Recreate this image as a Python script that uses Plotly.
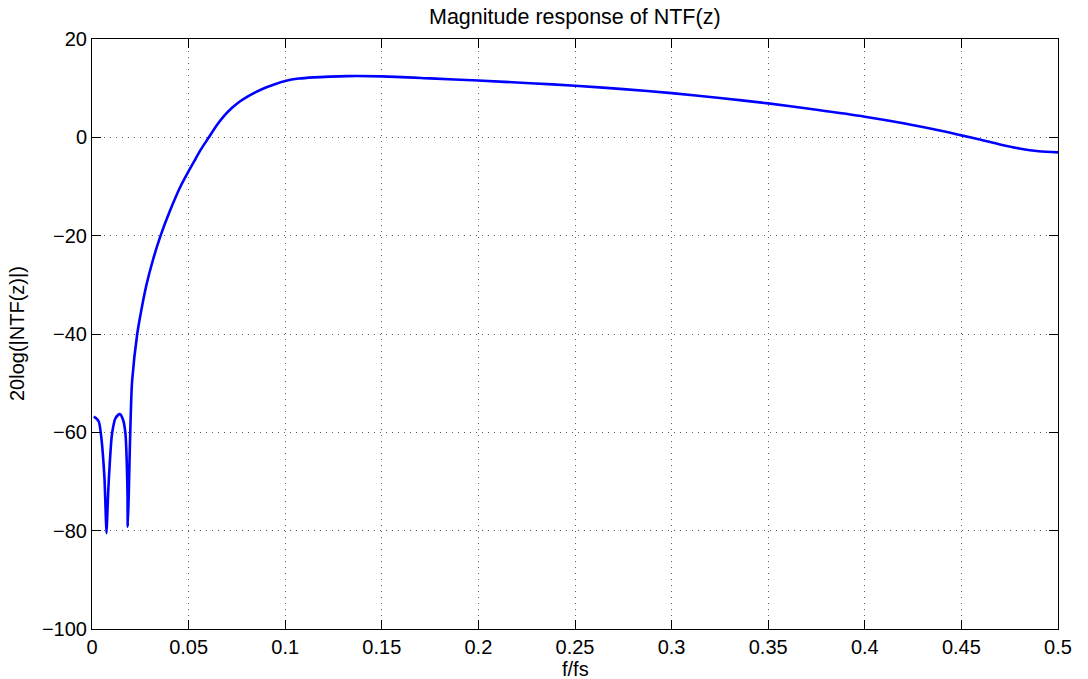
import plotly.graph_objects as go

# Normalised frequency f/fs and magnitude of NTF in dB
freq = [0.0009, 0.002, 0.0035, 0.0045, 0.0053, 0.006, 0.0065, 0.0071, 0.0075,
        0.0079, 0.0084, 0.0092, 0.0104, 0.0122, 0.0144, 0.0161, 0.0173, 0.018,
        0.0184, 0.0185, 0.019, 0.0194, 0.0198, 0.0203, 0.0208, 0.0234, 0.0256,
        0.0282, 0.0315, 0.0355, 0.0403, 0.0458, 0.0527, 0.0563, 0.0605, 0.0645,
        0.0685, 0.0725, 0.0765, 0.0805, 0.085, 0.09, 0.095, 0.1, 0.107, 0.1147,
        0.123, 0.132, 0.15, 0.175, 0.2, 0.227, 0.25, 0.275, 0.3, 0.325, 0.35,
        0.375, 0.4, 0.42, 0.44, 0.45, 0.46, 0.47, 0.48, 0.49, 0.5]
mag_db = [-56.8, -57.1, -57.8, -60.0, -62.9, -66.5, -69.7, -76.5, -80.5,
          -77.0, -72.0, -66.3, -60.2, -57.1, -56.3, -57.5, -60.2, -66.3,
          -73.0, -79.2, -73.0, -66.3, -60.0, -53.4, -49.4, -40.0, -35.0,
          -30.0, -25.0, -20.0, -15.0, -10.0, -5.0, -2.5, 0.0, 2.4,
          4.4, 6.0, 7.3, 8.3, 9.25, 10.15, 10.85, 11.45, 11.95, 12.2,
          12.35, 12.45, 12.4, 12.0, 11.55, 11.0, 10.5, 9.8, 9.0, 8.0, 6.9,
          5.6, 4.2, 2.87, 1.29, 0.4, -0.51, -1.45, -2.27, -2.84, -3.05]

x_ticks = [0, 0.05, 0.1, 0.15, 0.2, 0.25, 0.3, 0.35, 0.4, 0.45, 0.5]
x_tick_text = ["0", "0.05", "0.1", "0.15", "0.2", "0.25", "0.3", "0.35", "0.4", "0.45", "0.5"]
y_ticks = [-100, -80, -60, -40, -20, 0, 20]

title_text = "Magnitude response of NTF(z)"
x_label = "f/fs"
y_label = "20log(|NTF(z)|)"

FONT = "Liberation Sans, Arial, Helvetica, sans-serif"

fig = go.Figure()
fig.add_trace(go.Scatter(
    x=freq, y=mag_db, mode="lines",
    line=dict(color="rgb(0,0,255)", width=2.6, shape="spline", smoothing=0.8),
    showlegend=False, hoverinfo="x+y",
))

axis_common = dict(
    showline=True, linecolor="black", linewidth=1, mirror="ticks",
    ticks="inside", ticklen=9, tickwidth=1, tickcolor="black",
    showgrid=True, gridcolor="rgba(40,40,40,0.75)", gridwidth=1, griddash="1px,5px",
    zeroline=False,
    tickfont=dict(family=FONT, size=20, color="black"),
)

fig.update_layout(
    width=1088, height=679,
    margin=dict(l=92, r=30, t=39, b=50),
    paper_bgcolor="white", plot_bgcolor="white",
    font=dict(family=FONT, size=20, color="black"),
    xaxis=dict(range=[0, 0.5], tickvals=x_ticks, ticktext=x_tick_text, **axis_common),
    yaxis=dict(range=[-100, 20], tickvals=y_ticks, **axis_common),
    annotations=[
        dict(text=title_text, x=0.5, y=1, xref="paper", yref="paper",
             xanchor="center", yanchor="bottom", yshift=8, showarrow=False,
             font=dict(family=FONT, size=21.5, color="black")),
        dict(text=x_label, x=0.5, y=0, xref="paper", yref="paper",
             xanchor="center", yanchor="top", yshift=-27, showarrow=False,
             font=dict(family=FONT, size=20, color="black")),
        dict(text=y_label, x=0, y=0.5, xref="paper", yref="paper",
             xanchor="right", yanchor="middle", xshift=-62, textangle=-90,
             showarrow=False, font=dict(family=FONT, size=20, color="black")),
    ],
)

fig.write_html("out.html")
